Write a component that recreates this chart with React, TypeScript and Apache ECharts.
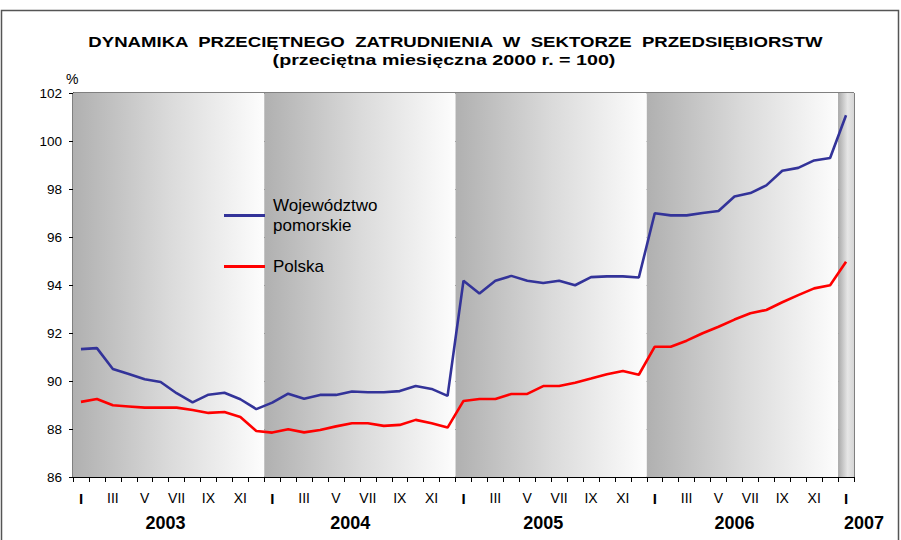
import React, { useEffect, useRef } from "react";
import * as echarts from "echarts";

const monthNames = ["I", "II", "III", "IV", "V", "VI", "VII", "VIII", "IX", "X", "XI", "XII"];
const years = ["2003", "2004", "2005", "2006", "2007"];
const yearLabelPos = [5.8, 17.4, 29.5, 41.5, 49];

const pomorskie = [
  91.33, 91.37, 90.5, 90.29, 90.07, 89.96, 89.49, 89.11, 89.43, 89.51, 89.24, 88.83,
  89.1, 89.47, 89.26, 89.42, 89.42, 89.56, 89.53, 89.53, 89.58, 89.79, 89.67, 89.38,
  94.18, 93.65, 94.18, 94.38, 94.18, 94.08, 94.18, 93.99, 94.33, 94.36, 94.36, 94.31,
  96.99, 96.9, 96.9, 97.0, 97.08, 97.69, 97.83, 98.15, 98.76, 98.88, 99.19, 99.29,
  101.07,
];

const polska = [
  89.13, 89.25, 88.99, 88.94, 88.89, 88.89, 88.89, 88.79, 88.67, 88.71, 88.5, 87.92,
  87.85, 87.99, 87.86, 87.96, 88.11, 88.24, 88.24, 88.13, 88.17, 88.38, 88.24, 88.06,
  89.17, 89.25, 89.25, 89.46, 89.46, 89.79, 89.79, 89.93, 90.1, 90.28, 90.42, 90.26,
  91.43, 91.43, 91.68, 91.99, 92.26, 92.56, 92.82, 92.96, 93.28, 93.58, 93.86, 93.99,
  94.97,
];

const yTicks = { min: 86, max: 102, interval: 2 };

const titleText = "DYNAMIKA  PRZECIĘTNEGO  ZATRUDNIENIA  W  SEKTORZE  PRZEDSIĘBIORSTW";
const subtitleText = "(przeciętna miesięczna 2000 r. = 100)";

const FONT = "'Liberation Sans', Arial, sans-serif";

export default function App() {
  const ref = useRef<HTMLDivElement>(null);

  useEffect(() => {
    document.body.style.margin = "0";
    if (!ref.current) return;
    const chart = echarts.init(ref.current, null, { renderer: "svg" });

    const categories: string[] = [];
    years.forEach((y, yi) => {
      monthNames.forEach((m, mi) => {
        if (yi < years.length - 1 || mi === 0) categories.push(m);
      });
    });
    const n = categories.length;

    const bandGrad = new echarts.graphic.LinearGradient(0, 0, 1, 0, [
      { offset: 0, color: "#b0b0b0" },
      { offset: 0.5, color: "#dadada" },
      { offset: 1, color: "#fdfdfd" },
    ]);
    const lastGrad = new echarts.graphic.LinearGradient(0, 0, 1, 0, [
      { offset: 0, color: "#a8a8a8" },
      { offset: 0.6, color: "#e6e6e6" },
      { offset: 1, color: "#d6d6d6" },
    ]);
    const bands: any[] = [];
    for (let i = 0; i < years.length; i++) {
      const start = i * 12;
      const end = Math.min(n, start + 12);
      bands.push([
        { xAxis: start, itemStyle: { color: i === years.length - 1 ? lastGrad : bandGrad } },
        { xAxis: end },
      ]);
    }

    const legendName = "Województwo pomorskie";

    chart.setOption({
      animation: false,
      backgroundColor: "#ffffff",
      textStyle: { fontFamily: FONT },
      graphic: [
        {
          type: "rect",
          shape: { x: 1.5, y: 10.5, width: 897, height: 540 },
          style: { fill: "none", stroke: "#555", lineWidth: 1.5 },
          silent: true,
        },
        {
          type: "text",
          x: 455.5,
          y: 42,
          scaleX: 1.2,
          silent: true,
          style: {
            text: titleText,
            font: "bold 15.5px " + FONT,
            fill: "#000",
            textAlign: "center",
            textVerticalAlign: "middle",
          },
        },
        {
          type: "text",
          x: 444,
          y: 59.5,
          scaleX: 1.27,
          silent: true,
          style: {
            text: subtitleText,
            font: "bold 15.5px " + FONT,
            fill: "#000",
            textAlign: "center",
            textVerticalAlign: "middle",
          },
        },
      ],
      legend: {
        orient: "vertical",
        left: 219,
        top: 192,
        itemGap: 24,
        itemWidth: 41,
        itemHeight: 3,
        icon: "rect",
        data: [legendName, "Polska"],
        formatter: (name: string) =>
          name === legendName ? "{t|Województwo}\n{t|pomorskie}" : "{t|" + name + "}",
        textStyle: {
          fontSize: 17,
          color: "#000",
          fontFamily: FONT,
          rich: { t: { fontSize: 17, lineHeight: 20, padding: [0, 0, 0, 3], color: "#000", fontFamily: FONT } },
        },
      },
      grid: {
        left: 73,
        top: 93,
        right: 47,
        bottom: 63,
        show: true,
        borderColor: "#000",
        borderWidth: 1,
        backgroundColor: "transparent",
      },
      xAxis: [
        {
          type: "category",
          data: categories,
          boundaryGap: true,
          axisLine: { show: true, lineStyle: { color: "#000", width: 1 } },
          axisTick: { show: true, interval: 0, length: 5, lineStyle: { color: "#000" } },
          axisLabel: {
            interval: 0,
            margin: 14,
            fontSize: 14,
            color: "#000",
            fontFamily: FONT,
            formatter: (val: string, idx: number) => {
              if (idx % 2 !== 0) return "";
              return idx % 12 === 0 ? "{b|" + val + "}" : val;
            },
            rich: { b: { fontWeight: "bold", fontSize: 15, color: "#000", fontFamily: FONT } },
          },
          splitLine: { show: false },
        },
        {
          type: "value",
          position: "bottom",
          min: 0,
          max: n,
          axisLine: { show: false },
          axisTick: { show: false },
          splitLine: { show: false },
          axisLabel: {
            customValues: yearLabelPos,
            margin: 37,
            fontSize: 18,
            fontWeight: "bold",
            color: "#000",
            fontFamily: FONT,
            formatter: (v: number) => {
              const i = yearLabelPos.indexOf(v);
              if (i < 0) return "";
              return i === years.length - 1 ? "{p|" + years[i] + "}" : years[i];
            },
            rich: { p: { fontSize: 18, fontWeight: "bold", padding: [0, 0, 0, 20], color: "#000", fontFamily: FONT } },
          },
        },
      ],
      yAxis: {
        type: "value",
        min: yTicks.min,
        max: yTicks.max,
        interval: yTicks.interval,
        name: "%",
        nameLocation: "end",
        nameGap: 3,
        nameTextStyle: { fontSize: 14, color: "#000", fontFamily: FONT, align: "left", padding: [0, 0, 0, -7] },
        axisLine: { show: true, lineStyle: { color: "#000", width: 1 } },
        axisTick: { show: true, length: 4, lineStyle: { color: "#000" } },
        axisLabel: { margin: 11, fontSize: 13.5, color: "#000", fontFamily: FONT },
        splitLine: { show: true, lineStyle: { color: "#222", width: 1 } },
      },
      series: [
        {
          name: "bands",
          type: "line",
          xAxisIndex: 1,
          yAxisIndex: 0,
          z: -1,
          data: [[0, yTicks.min]],
          symbol: "none",
          lineStyle: { opacity: 0 },
          silent: true,
          markArea: { silent: true, data: bands },
        },
        {
          name: legendName,
          type: "line",
          data: pomorskie,
          symbol: "none",
          lineStyle: { color: "#333399", width: 2.6 },
          itemStyle: { color: "#333399" },
          z: 3,
        },
        {
          name: "Polska",
          type: "line",
          data: polska,
          symbol: "none",
          lineStyle: { color: "#ff0000", width: 2.6 },
          itemStyle: { color: "#ff0000" },
          z: 3,
        },
      ],
    });

    return () => chart.dispose();
  }, []);

  return <div ref={ref} style={{ width: 901, height: 540 }} />;
}
